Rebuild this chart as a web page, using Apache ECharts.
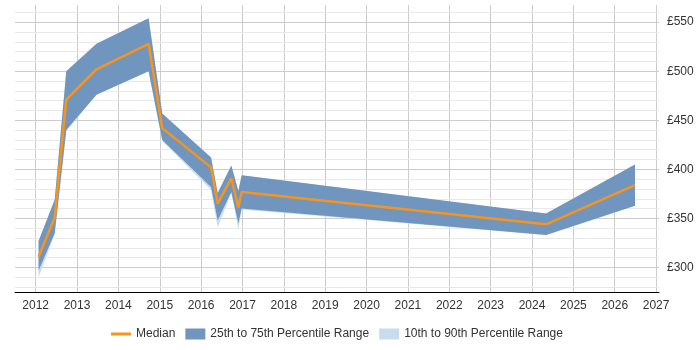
<!DOCTYPE html>
<html>
<head>
<meta charset="utf-8">
<script src="https://cdn.jsdelivr.net/npm/echarts@6/dist/echarts.min.js"></script>
<style>
  html, body { margin: 0; padding: 0; background: #fff; }
  #chart { width: 700px; height: 350px; }
</style>
</head>
<body>
<div id="chart"></div>
<script>
// sample dates (decimal years)
var years = [2012.07, 2012.46, 2012.74, 2013.47, 2014.73, 2015.06, 2016.24, 2016.4, 2016.73, 2016.9, 2016.98, 2024.34, 2026.49];
// percentiles
var median = [311, 351, 471, 502, 528, 442, 402, 365, 391, 361, 377, 344, 384];
var p25 = [297, 335, 440, 476, 500, 430, 382, 348, 377, 345, 360, 333, 363];
var p75 = [327, 369, 500, 528, 554, 457, 412, 376, 404, 378, 394, 355, 405];
var p10 = [290, 334, 439, 476, 500, 429, 379, 341, 376, 339, 359, 333, 363];
var p90 = [327, 369, 500, 528, 554, 457, 412, 376, 404, 378, 394, 355, 405];

// grid lines
var xGridYears = [2012, 2013, 2014, 2015, 2016, 2017, 2018, 2019, 2020, 2021, 2022, 2023, 2024, 2025, 2026, 2027];
var yMajor = [300, 350, 400, 450, 500, 550];
var yMinor = [280, 290, 310, 320, 330, 340, 360, 370, 380, 390, 410, 420, 430, 440,
              460, 470, 480, 490, 510, 520, 530, 540, 560];

var chart = echarts.init(document.getElementById('chart'));

var font = 'Liberation Sans, Arial, sans-serif';
var darkBand = '#7095bf';
var lightBand = '#c9dcee';
var orange = '#f7941d';

function pairs(vals) {
    return years.map(function (y, i) { return [y, vals[i]]; });
}
function bandData(lo, hi) {
    return years.map(function (y, i) { return [y, lo[i], hi[i]]; });
}
// draws one polygon through all points of a band
function bandRender(color) {
    return function (params, api) {
        if (params.dataIndex !== 0) return;
        var top = [], bottom = [];
        for (var i = 0; i < years.length; i++) {
            top.push(api.coord([years[i], api.value(2, i)]));
            bottom.push(api.coord([years[i], api.value(1, i)]));
        }
        return {
            type: 'polygon',
            shape: { points: top.concat(bottom.reverse()) },
            style: { fill: color }
        };
    };
}

var gridLines = [];
xGridYears.forEach(function (y) { gridLines.push({ xAxis: y, lineStyle: { color: '#cccccc', type: 'solid', width: 1 } }); });
yMinor.forEach(function (v) { gridLines.push({ yAxis: v, lineStyle: { color: '#e8e8e8', type: 'solid', width: 1 } }); });
yMajor.forEach(function (v) { gridLines.push({ yAxis: v, lineStyle: { color: '#cccccc', type: 'solid', width: 1 } }); });

var option = {
    animation: false,
    textStyle: { fontFamily: font },
    grid: { left: 15, right: 41, top: 5, bottom: 58 },
    legend: {
        bottom: 5,
        left: 106,
        itemGap: 10,
        itemWidth: 20,
        itemHeight: 11,
        textStyle: { fontFamily: font, fontSize: 12, color: '#333' },
        data: [
            { name: 'Median', icon: 'path://M0,4 L20,4 L20,7 L0,7 Z', itemStyle: { color: orange } },
            { name: '25th to 75th Percentile Range', icon: 'rect', itemStyle: { color: darkBand } },
            { name: '10th to 90th Percentile Range', icon: 'rect', itemStyle: { color: lightBand } }
        ]
    },
    xAxis: {
        type: 'value',
        min: 2011.5,
        max: 2027.07,
        interval: 0.5,
        axisLine: { show: true, lineStyle: { color: '#000', width: 1 } },
        axisTick: { show: false },
        axisLabel: {
            color: '#333', fontSize: 12, fontFamily: font, margin: 8,
            showMinLabel: false, showMaxLabel: false,
            formatter: function (v) { return Math.abs(v - Math.round(v)) < 1e-6 ? String(Math.round(v)) : ''; }
        },
        splitLine: { show: false }
    },
    yAxis: {
        type: 'value',
        position: 'right',
        min: 275,
        max: 567.5,
        interval: 5,
        axisLine: { show: false },
        axisTick: { show: false },
        axisLabel: {
            color: '#333', fontSize: 12, fontFamily: font, margin: 8,
            formatter: function (v) { return v % 50 === 0 ? '£' + v : ''; }
        },
        splitLine: { show: false }
    },
    series: [
        {
            name: 'grid', type: 'line', data: pairs(median), z: 0,
            symbol: 'none', lineStyle: { opacity: 0 }, silent: true,
            markLine: {
                z: 0, silent: true, symbol: 'none', label: { show: false },
                animation: false, data: gridLines
            }
        },
        {
            name: '10th to 90th Percentile Range', type: 'custom', z: 1,
            data: bandData(p10, p90), encode: { x: 0, y: [1, 2] },
            renderItem: bandRender(lightBand), itemStyle: { color: lightBand }
        },
        {
            name: '25th to 75th Percentile Range', type: 'custom', z: 2,
            data: bandData(p25, p75), encode: { x: 0, y: [1, 2] },
            renderItem: bandRender(darkBand), itemStyle: { color: darkBand }
        },
        {
            name: 'Median', type: 'line', data: pairs(median), z: 3,
            symbol: 'none', lineStyle: { color: orange, width: 2.5 }, itemStyle: { color: orange }
        }
    ]
};

chart.setOption(option);
</script>
</body>
</html>
